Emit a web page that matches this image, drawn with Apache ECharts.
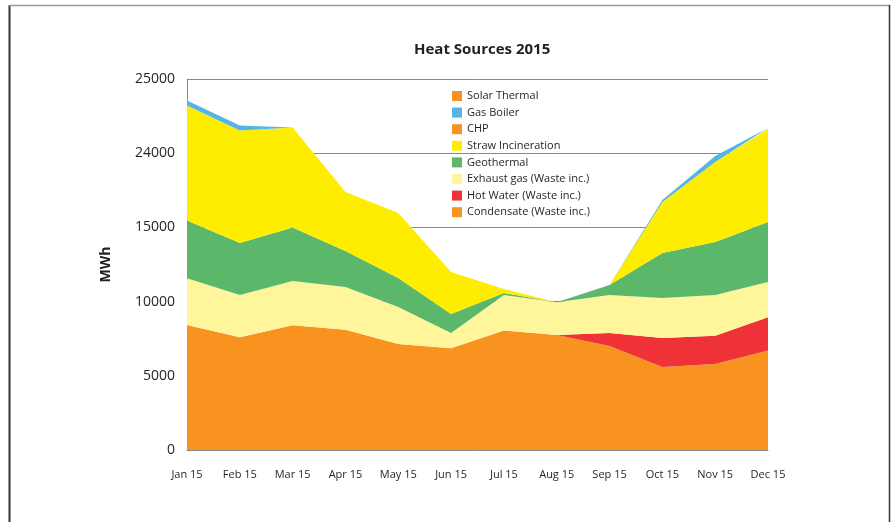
<!DOCTYPE html>
<html>
<head>
<meta charset="utf-8">
<script src="https://cdn.jsdelivr.net/npm/echarts@6/dist/echarts.min.js"></script>
<style>html,body{margin:0;padding:0;background:#fff}#c{width:893px;height:522px}</style>
</head>
<body>
<div id="c"></div>
<script>
const months = ['Jan 15','Feb 15','Mar 15','Apr 15','May 15','Jun 15','Jul 15','Aug 15','Sep 15','Oct 15','Nov 15','Dec 15'];
const yTickLabels = ['0','5000','10000','15000','24000','25000'];
const condensate = [8430, 7600, 8400, 8100, 7150, 6850, 8050, 7750, 7000, 5600, 5800, 6700];
const hotWater   = [0, 0, 0, 0, 0, 0, 0, 0, 880, 1950, 1900, 2250];
const exhaustGas = [3150, 2840, 2990, 2880, 2490, 1030, 2390, 2200, 2560, 2690, 2740, 2370];
const geothermal = [3880, 3510, 3600, 2430, 1950, 1280, 140, 0, 680, 3030, 3580, 4040];
const straw      = [7760, 7580, 6740, 3980, 4380, 2830, 270, 0, 0, 3440, 5390, 6270];
const chp        = [0, 0, 0, 0, 0, 0, 0, 0, 0, 0, 0, 0];
const gasBoiler  = [330, 340, 0, 0, 0, 0, 0, 0, 0, 140, 400, 70];
const solar      = [0, 0, 0, 0, 0, 0, 0, 0, 0, 0, 0, 0];

const ORANGE = '#F7931E';
const FONT = 'Open Sans';
const seriesDefs = [
  ['Condensate (Waste inc.)', condensate, ORANGE],
  ['Hot Water (Waste inc.)', hotWater, '#EE3237'],
  ['Exhaust gas (Waste inc.)', exhaustGas, '#FFF59A'],
  ['Geothermal', geothermal, '#5BB86B'],
  ['Straw Incineration', straw, '#FFED00'],
  ['CHP', chp, ORANGE],
  ['Gas Boiler', gasBoiler, '#55B4E6'],
  ['Solar Thermal', solar, ORANGE]
];
const legendOrder = ['Solar Thermal','Gas Boiler','CHP','Straw Incineration','Geothermal','Exhaust gas (Waste inc.)','Hot Water (Waste inc.)','Condensate (Waste inc.)'];

const chart = echarts.init(document.getElementById('c'), null, {renderer:'canvas'});
chart.setOption({
  animation: false,
  backgroundColor: '#fff',
  textStyle: {fontFamily: FONT},
  title: {
    text: 'Heat Sources 2015',
    left: 409, top: 37,
    textStyle: {fontFamily: FONT, fontSize: 15, fontWeight: 'bold', color: '#231F20'}
  },
  legend: {
    data: legendOrder,
    orient: 'vertical',
    left: 452, top: 90,
    itemWidth: 10, itemHeight: 10, itemGap: 4.6,
    icon: 'rect',
    textStyle: {fontFamily: FONT, fontSize: 11, color: '#231F20', lineHeight: 12, padding: [0,0,0,0]},
    padding: 0
  },
  grid: {left: 187, right: 125, top: 79, bottom: 72},
  xAxis: {
    type: 'category', data: months, boundaryGap: false,
    axisLine: {lineStyle: {color: '#888', width: 1}},
    axisTick: {show: false},
    axisLabel: {fontFamily: FONT, fontSize: 11, color: '#231F20', margin: 19},
    splitLine: {show: false}
  },
  yAxis: {
    type: 'value', min: 0, max: 25000, interval: 5000,
    name: 'MWh', nameLocation: 'middle', nameGap: 74, nameRotate: 90,
    nameTextStyle: {fontFamily: FONT, fontSize: 14, fontWeight: 'bold', color: '#231F20'},
    axisLine: {show: true, lineStyle: {color: '#888', width: 1}},
    axisTick: {show: false},
    axisLabel: {fontFamily: FONT, fontSize: 14, color: '#231F20', margin: 12,
      formatter: v => yTickLabels[Math.round(v / 5000)]},
    splitLine: {show: true, lineStyle: {color: '#888', width: 1}}
  },
  series: seriesDefs.map(([name, data, color]) => ({
    name, type: 'line', stack: 'total', data,
    symbol: 'none', lineStyle: {width: 0}, itemStyle: {color},
    areaStyle: {color, opacity: 1}
  })),
  graphic: [
    {type: 'line', shape: {x1: 9.5, y1: 5, x2: 9.5, y2: 522}, style: {stroke: '#333', lineWidth: 2}},
    {type: 'line', shape: {x1: 9, y1: 5.5, x2: 890, y2: 5.5}, style: {stroke: '#999', lineWidth: 1.5}},
    {type: 'line', shape: {x1: 889.5, y1: 5, x2: 889.5, y2: 522}, style: {stroke: '#333', lineWidth: 1.5}}
  ]
});
</script>
</body>
</html>
